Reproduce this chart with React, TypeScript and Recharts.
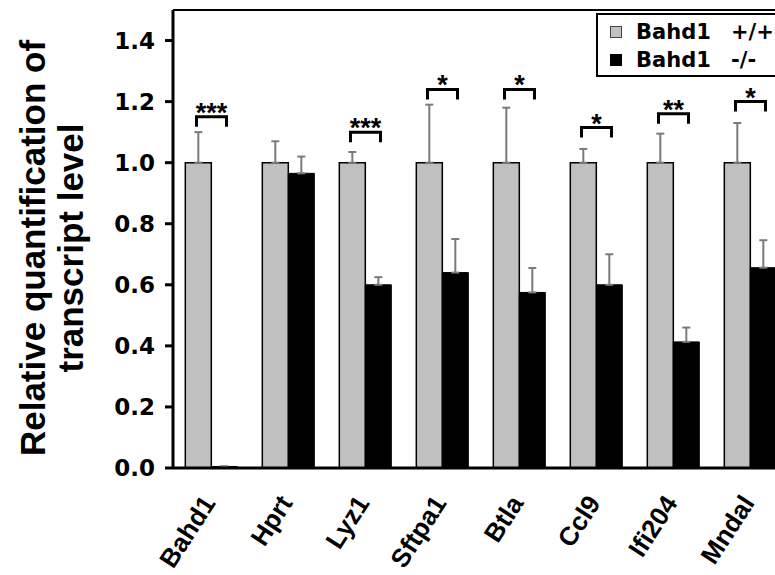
import { ComposedChart, Bar, Line, XAxis, YAxis, ErrorBar, ReferenceLine, Legend, Label } from 'recharts';

const genes = ['Bahd1', 'Hprt', 'Lyz1', 'Sftpa1', 'Btla', 'Ccl9', 'Ifi204', 'Mndal'];
// Bahd1 +/+ (normalised to 1) and upper SD
const wildType = [1, 1, 1, 1, 1, 1, 1, 1];
const wildTypeSd = [0.10, 0.07, 0.035, 0.19, 0.18, 0.045, 0.095, 0.13];
// Bahd1 -/-
const knockout = [0.005, 0.965, 0.6, 0.64, 0.575, 0.6, 0.413, 0.656];
const knockoutSd = [0, 0.055, 0.025, 0.11, 0.08, 0.1, 0.047, 0.09];
// significance brackets
const bracketLevel = [1.15, null, 1.10, 1.24, 1.24, 1.115, 1.16, 1.2];
const stars = ['***', '', '***', '*', '*', '*', '**', '*'];
const yTicks = [0, 0.2, 0.4, 0.6, 0.8, 1.0, 1.2, 1.4];

const data = genes.map((g, i) => ({
  gene: g,
  wt: wildType[i],
  wtErr: [0, wildTypeSd[i]],
  ko: knockout[i],
  koErr: [0, knockoutSd[i]],
  sig: bracketLevel[i],
  stars: stars[i],
}));

const ARIAL = 'Liberation Sans, Arial, Helvetica, sans-serif';
const WIDE = 'DejaVu Sans, Verdana, sans-serif';

const XTick = ({ x, y, payload }: any) => {
  const tx = x + 5;
  const ty = y + 35;
  return (
    <text
      x={tx}
      y={ty}
      transform={`rotate(-57, ${tx}, ${ty})`}
      textAnchor="end"
      fontFamily={ARIAL}
      fontWeight="bold"
      fontSize={26}
      fill="#000"
    >
      {payload.value}
    </text>
  );
};

const Bracket = (props: any) => {
  const { cx, cy, payload, index } = props;
  if (payload.sig == null || cy == null || isNaN(cy)) return <g key={`b-${index}`} />;
  const hw = 15;
  return (
    <g key={`b-${index}`}>
      <path
        d={`M${cx - hw},${cy + 10} L${cx - hw},${cy} L${cx + hw},${cy} L${cx + hw},${cy + 10}`}
        fill="none"
        stroke="#000"
        strokeWidth={3}
      />
      <text x={cx} y={cy + 5} textAnchor="middle" fontFamily={ARIAL} fontWeight="bold" fontSize={27} fill="#000">
        {payload.stars}
      </text>
    </g>
  );
};

const YTitle = () => (
  <g>
    <text
      transform="translate(45, 248) rotate(-90)"
      textAnchor="middle"
      fontFamily={ARIAL}
      fontWeight="bold"
      fontSize={35}
      fill="#000"
    >
      Relative quantification of
    </text>
    <text
      transform="translate(83, 248) rotate(-90)"
      textAnchor="middle"
      fontFamily={ARIAL}
      fontWeight="bold"
      fontSize={35}
      fill="#000"
    >
      transcript level
    </text>
  </g>
);

const rowStyle = { display: 'flex', alignItems: 'center', whiteSpace: 'pre' as const };

const LegendBox = () => (
  <div
    style={{
      border: '2px solid #000',
      background: '#fff',
      width: 200,
      height: 64,
      boxSizing: 'border-box',
      padding: '3px 0 0 12px',
      fontFamily: WIDE,
      fontWeight: 'bold',
      fontSize: 21,
      lineHeight: '28px',
      color: '#000',
    }}
  >
    <div style={rowStyle}>
      <span style={{ width: 10, height: 10, background: '#c0c0c0', border: '1px solid #444', marginRight: 14 }} />
      <span style={{ width: 95 }}>Bahd1</span>
      <span>+/+</span>
    </div>
    <div style={rowStyle}>
      <span style={{ width: 12, height: 12, background: '#000', marginRight: 14 }} />
      <span style={{ width: 95 }}>Bahd1</span>
      <span>-/-</span>
    </div>
  </div>
);

export default function App() {
  return (
    <div style={{ position: 'absolute', left: 0, top: 0, width: 775, height: 575, overflow: 'hidden', background: '#fff' }}>
      <ComposedChart
        width={800}
        height={575}
        data={data}
        margin={{ top: 10, right: 11, bottom: 0, left: 0 }}
        barGap={0}
        barCategoryGap="16%"
      >
        <XAxis
          dataKey="gene"
          height={107}
          axisLine={{ stroke: '#000', strokeWidth: 3 }}
          tickLine={false}
          tickSize={0}
          tickMargin={0}
          interval={0}
          tick={<XTick />}
        />
        <YAxis
          width={173}
          domain={[0, 1.5]}
          ticks={yTicks}
          allowDataOverflow
          tickFormatter={(v: number) => v.toFixed(1)}
          axisLine={{ stroke: '#000', strokeWidth: 3 }}
          tickLine={{ stroke: '#000', strokeWidth: 3 }}
          tickSize={8}
          tickMargin={10}
          tick={{ fontFamily: WIDE, fontWeight: 'bold', fontSize: 23, fill: '#000' }}
        >
          <Label content={<YTitle />} />
        </YAxis>
        <ReferenceLine y={1.5} stroke="#000" strokeWidth={2} />
        <Legend
          layout="horizontal"
          verticalAlign="middle"
          align="center"
          content={<LegendBox />}
          wrapperStyle={{ top: 13, left: 596, width: 200, height: 64 }}
        />
        <Bar dataKey="wt" name="Bahd1 +/+" fill="#c0c0c0" stroke="#000" strokeWidth={1.5} isAnimationActive={false}>
          <ErrorBar dataKey="wtErr" width={4} stroke="#7a7a7a" strokeWidth={2} direction="y" />
        </Bar>
        <Bar dataKey="ko" name="Bahd1 -/-" fill="#000" stroke="#000" strokeWidth={1} isAnimationActive={false}>
          <ErrorBar dataKey="koErr" width={4} stroke="#7a7a7a" strokeWidth={2} direction="y" />
        </Bar>
        <Line
          dataKey="sig"
          stroke="none"
          legendType="none"
          dot={<Bracket />}
          activeDot={false}
          isAnimationActive={false}
        />
      </ComposedChart>
    </div>
  );
}
